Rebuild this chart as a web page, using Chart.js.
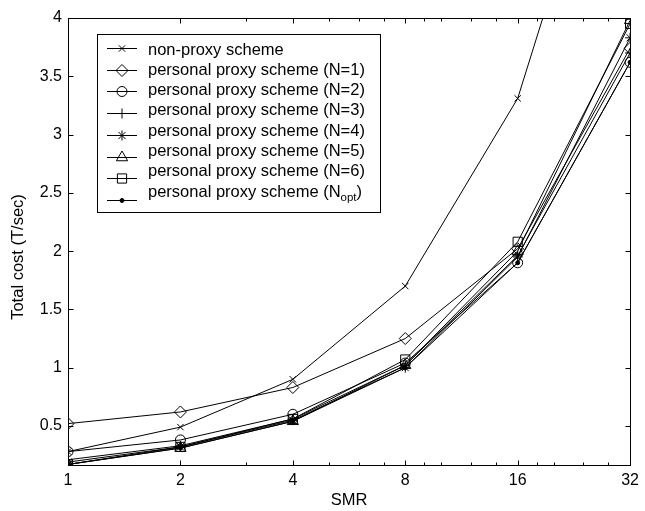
<!DOCTYPE html>
<html>
<head>
<meta charset="utf-8">
<script src="https://cdn.jsdelivr.net/npm/chart.js@4/dist/chart.umd.min.js"></script>
<style>html,body{margin:0;padding:0;background:#fff}</style>
</head>
<body>
<canvas id="c" width="645" height="511"></canvas>
<script>
// SMR values (x axis, log2 spaced)
var smr = [1, 2, 4, 8, 16, 32];
var xMinor = [3, 5, 6, 7, 9, 10, 12, 14, 18, 20, 24, 28];
var yTicks = [0.5, 1, 1.5, 2, 2.5, 3, 3.5, 4];

// total cost (T/sec) per scheme
var nonProxy = [0.28, 0.49, 0.90, 1.70, 3.31, 6.40];
var proxyN1  = [0.52, 0.62, 0.83, 1.25, 2.02, 3.74];
var proxyN2  = [0.28, 0.38, 0.60, 1.04, 1.90, 3.62];
var proxyN3  = [0.21, 0.33, 0.56, 1.02, 1.96, 3.70];
var proxyN4  = [0.19, 0.32, 0.55, 1.00, 1.95, 3.83];
var proxyN5  = [0.17, 0.31, 0.54, 1.02, 2.00, 3.98];
var proxyN6  = [0.17, 0.32, 0.56, 1.07, 2.08, 3.95];
var proxyOpt = [0.17, 0.31, 0.54, 1.00, 1.90, 3.62];

var labels = ['non-proxy scheme', 'personal proxy scheme (N=1)', 'personal proxy scheme (N=2)',
  'personal proxy scheme (N=3)', 'personal proxy scheme (N=4)', 'personal proxy scheme (N=5)',
  'personal proxy scheme (N=6)', 'personal proxy scheme (N'];
var series = [nonProxy, proxyN1, proxyN2, proxyN3, proxyN4, proxyN5, proxyN6, proxyOpt];
var markers = ['crossRot', 'rectRot', 'circle', 'cross', 'star', 'triangle', 'rect', 'circle'];
var radii = [4.5, 6, 5, 5, 5, 6.5, 6.5, 2];

var FONT = 'Liberation Sans, Arial, sans-serif';

var datasets = series.map(function (s, i) {
  return {
    label: labels[i],
    data: s.map(function (v, j) { return { x: smr[j], y: v }; }),
    borderColor: '#000',
    borderWidth: 1,
    pointStyle: markers[i],
    pointRadius: radii[i],
    pointBorderColor: '#000',
    pointBorderWidth: 1,
    pointBackgroundColor: i == 7 ? '#000' : 'rgba(0,0,0,0)',
    tension: 0
  };
});

// box, inward ticks, legend, y title
var frame = {
  id: 'frame',
  afterDatasetsDraw: function (chart) {
    var a = chart.chartArea, ctx = chart.ctx;
    var xs = chart.scales.x, ys = chart.scales.y;
    var L = Math.round(a.left) + 0.5, R = Math.round(a.right) + 0.5;
    var T = Math.round(a.top) + 0.5, B = Math.round(a.bottom) + 0.5;
    ctx.save();
    ctx.strokeStyle = '#000';
    ctx.lineWidth = 1;
    ctx.strokeRect(L, T, R - L, B - T);
    ctx.beginPath();
    smr.concat(xMinor).forEach(function (v) {
      var px = Math.round(xs.getPixelForValue(v)) + 0.5;
      var len = smr.indexOf(v) >= 0 ? 5 : 3;
      ctx.moveTo(px, B); ctx.lineTo(px, B - len);
      ctx.moveTo(px, T); ctx.lineTo(px, T + len);
    });
    yTicks.forEach(function (v) {
      var py = Math.round(ys.getPixelForValue(v)) + 0.5;
      ctx.moveTo(L, py); ctx.lineTo(L + 5, py);
      ctx.moveTo(R, py); ctx.lineTo(R - 5, py);
    });
    ctx.stroke();
    ctx.restore();
  },
  afterDraw: function (chart) {
    var ctx = chart.ctx;
    ctx.save();
    ctx.fillStyle = '#000';
    ctx.font = '16.5px ' + FONT;
    ctx.textAlign = 'center';
    ctx.textBaseline = 'middle';
    ctx.translate(18, 257);
    ctx.rotate(-Math.PI / 2);
    ctx.fillText('Total cost (T/sec)', 0, 0);
    ctx.restore();

    ctx.save();
    ctx.fillStyle = '#fff';
    ctx.fillRect(97.5, 34.5, 283, 178);
    ctx.strokeStyle = '#000';
    ctx.lineWidth = 1;
    ctx.strokeRect(97.5, 34.5, 283, 178);
    ctx.font = '16.5px ' + FONT;
    ctx.textBaseline = 'middle';
    labels.forEach(function (t, i) {
      var ly = Math.round(48 + 21.7 * i) + 0.5;
      var ty = 50 + 20.3 * i;
      if (i == 7) ly = 200.5;
      ctx.beginPath();
      ctx.moveTo(107, ly); ctx.lineTo(137, ly);
      ctx.stroke();
      ctx.fillStyle = i == 7 ? '#000' : 'rgba(0,0,0,0)';
      Chart.helpers.drawPoint(ctx, {
        pointStyle: markers[i], radius: radii[i], borderWidth: 1
      }, 122, ly);
      ctx.fillStyle = '#000';
      ctx.fillText(t, 148, ty);
      if (i == 7) {
        var w = ctx.measureText(t).width;
        ctx.font = '11.5px ' + FONT;
        ctx.fillText('opt', 148 + w, ty + 6);
        var w2 = ctx.measureText('opt').width;
        ctx.font = '16.5px ' + FONT;
        ctx.fillText(')', 148 + w + w2, ty);
      }
    });
    ctx.restore();
  }
};

new Chart(document.getElementById('c'), {
  type: 'line',
  data: { datasets: datasets },
  plugins: [frame],
  options: {
    responsive: false,
    animation: false,
    devicePixelRatio: 1,
    layout: { padding: { top: 18, right: 10, left: 0, bottom: 0 } },
    plugins: { legend: { display: false }, tooltip: { enabled: false } },
    scales: {
      x: {
        type: 'logarithmic',
        min: 1,
        max: 32,
        grid: { display: false, drawTicks: false, tickLength: 0 },
        border: { display: false },
        afterBuildTicks: function (s) { s.ticks = smr.map(function (v) { return { value: v }; }); },
        afterFit: function (s) { s.height = 46; },
        ticks: {
          autoSkip: false, maxRotation: 0, padding: 6, color: '#000',
          font: { family: FONT, size: 16 },
          callback: function (v) { return String(v); }
        },
        title: { display: true, text: 'SMR', color: '#000', font: { family: FONT, size: 16.5 }, padding: { top: 0, bottom: 1 } }
      },
      y: {
        type: 'linear',
        min: 0.165,
        max: 4,
        grid: { display: false, drawTicks: false, tickLength: 0 },
        border: { display: false },
        afterBuildTicks: function (s) { s.ticks = yTicks.map(function (v) { return { value: v }; }); },
        afterFit: function (s) { s.width = 68; },
        ticks: {
          padding: 6, color: '#000',
          font: { family: FONT, size: 16 },
          callback: function (v) { return String(v); }
        }
      }
    }
  }
});
</script>
</body>
</html>
